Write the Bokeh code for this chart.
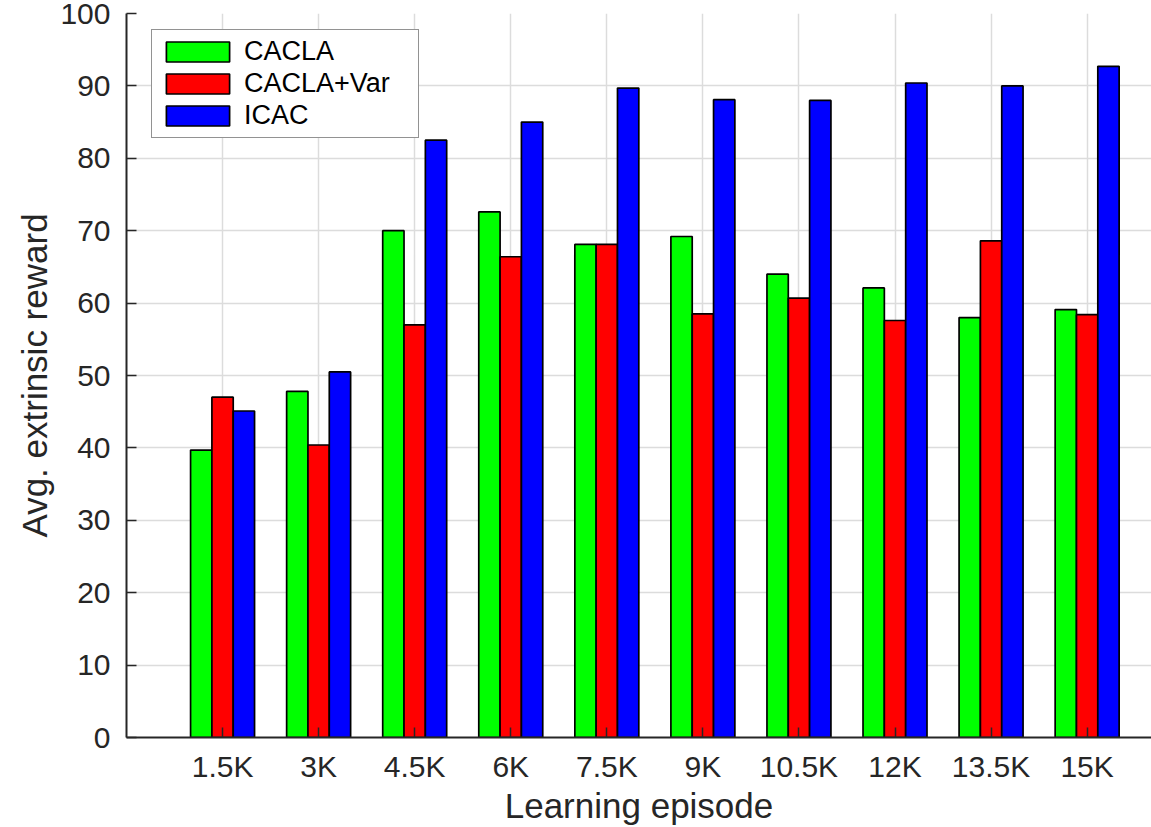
from bokeh.plotting import figure
from bokeh.models import ColumnDataSource, Range1d, FixedTicker, Legend, LegendItem
from bokeh.transform import dodge
from bokeh.embed import file_html
from bokeh.resources import INLINE

categories = ["1.5K", "3K", "4.5K", "6K", "7.5K", "9K", "10.5K", "12K", "13.5K", "15K"]
positions = [1, 2, 3, 4, 5, 6, 7, 8, 9, 10]
cacla = [39.7, 47.8, 70.0, 72.6, 68.1, 69.2, 64.0, 62.1, 58.0, 59.1]
cacla_var = [47.0, 40.4, 57.0, 66.4, 68.1, 58.5, 60.7, 57.6, 68.6, 58.4]
icac = [45.1, 50.5, 82.5, 85.0, 89.7, 88.1, 88.0, 90.4, 90.0, 92.7]
y_ticks = [0, 10, 20, 30, 40, 50, 60, 70, 80, 90, 100]

src = ColumnDataSource(dict(x=positions, cacla=cacla, cacla_var=cacla_var, icac=icac))

FONT = "Liberation Sans"
TXT = "#262626"

p = figure(width=1151, height=827, output_backend="svg", toolbar_location=None,
           x_range=Range1d(0, 10.67), y_range=Range1d(0, 100),
           min_border_left=126, min_border_right=0, min_border_top=13, min_border_bottom=88)
p.outline_line_color = None
p.background_fill_color = "white"

bw = 0.222
r1 = p.vbar(x=dodge("x", -bw, range=p.x_range), top="cacla", width=bw, source=src,
            fill_color="#00ff00", line_color="black", line_width=1.7)
r2 = p.vbar(x=dodge("x", 0.0, range=p.x_range), top="cacla_var", width=bw, source=src,
            fill_color="#ff0000", line_color="black", line_width=1.7)
r3 = p.vbar(x=dodge("x", bw, range=p.x_range), top="icac", width=bw, source=src,
            fill_color="#0000ff", line_color="black", line_width=1.7)

p.xaxis.ticker = FixedTicker(ticks=positions)
p.xaxis.major_label_overrides = {pos: lab for pos, lab in zip(positions, categories)}
p.yaxis.ticker = FixedTicker(ticks=y_ticks)

for ax in (p.xaxis, p.yaxis):
    ax.major_tick_in = 10
    ax.major_tick_out = 0
    ax.minor_tick_line_color = None
    ax.axis_line_color = TXT
    ax.axis_line_width = 2
    ax.major_tick_line_color = TXT
    ax.major_tick_line_width = 1.5
    ax.major_label_text_font = FONT
    ax.major_label_text_font_size = "30px"
    ax.major_label_text_color = TXT
    ax.axis_label_text_font = FONT
    ax.axis_label_text_font_size = "35px"
    ax.axis_label_text_font_style = "normal"
    ax.axis_label_text_color = TXT

p.xaxis.major_label_standoff = 12
p.yaxis.major_label_standoff = 16
p.xaxis.axis_label = "Learning episode"
p.yaxis.axis_label = "Avg. extrinsic reward"
p.xaxis.axis_label_standoff = 0
p.yaxis.axis_label_standoff = 3

p.grid.grid_line_color = "#dcdcdc"
p.grid.grid_line_width = 1.5

legend = Legend(items=[LegendItem(label="CACLA", renderers=[r1]),
                       LegendItem(label="CACLA+Var", renderers=[r2]),
                       LegendItem(label="ICAC", renderers=[r3])],
                location=(25, 599), orientation="vertical")
legend.glyph_width = 79
legend.glyph_height = 25
legend.label_height = 25
legend.label_width = 168
legend.padding = 6
legend.spacing = 1
legend.label_standoff = 7
legend.margin = 0
legend.label_text_font = FONT
legend.label_text_font_size = "27px"
legend.label_text_color = "black"
legend.border_line_color = TXT
legend.border_line_width = 1.5
legend.background_fill_color = "white"
legend.background_fill_alpha = 1.0
p.add_layout(legend, "center")

open("out.html", "w").write(file_html(p, INLINE))
